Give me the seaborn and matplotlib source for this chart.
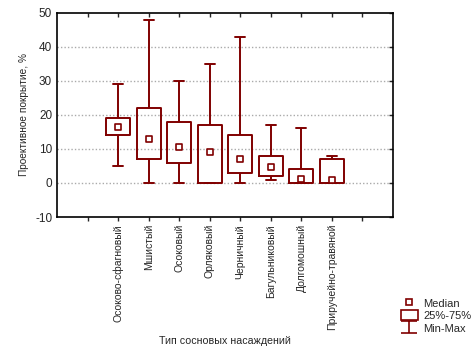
import seaborn as sns
import pandas as pd
import numpy as np
import matplotlib.pyplot as plt
from matplotlib.lines import Line2D
from matplotlib.patches import Patch
from matplotlib.path import Path

types = ["Осоково-сфагновый", "Мшистый", "Осоковый", "Орляковый",
         "Черничный", "Багульниковый", "Долгомошный", "Приручейно-травяной"]
mins = [5, 0, 0, 0, 0, 1, 0, 0]
q1 = [14, 7, 6, 0, 3, 2, 0, 0]
medians = [16.5, 13, 10.5, 9, 7, 4.6, 1.1, 0.8]
q3 = [19, 22, 18, 17, 14, 8, 4, 7]
maxs = [29, 48, 30, 35, 43, 17, 16, 8]

red = "#800000"

# five summary values per type -> box spans q1..q3, whiskers min..max
rows = []
for t, a, b, c, d, e in zip(types, mins, q1, medians, q3, maxs):
    for v in (a, b, c, d, e):
        rows.append({"type": t, "value": v})
df = pd.DataFrame(rows)
med_df = pd.DataFrame({"type": types, "value": medians})

sns.set_style("white")
plt.rcParams['font.family'] = ['Liberation Sans', 'DejaVu Sans']
plt.rcParams['axes.unicode_minus'] = False
fig = plt.figure(figsize=(4.77, 3.59), dpi=100)
ax = fig.add_axes([0.1195, 0.3955, 0.7045, 0.569])

sns.boxplot(data=df, x="type", y="value", order=types, whis=(0, 100),
            width=0.78, fill=False, color=red, linecolor=red, linewidth=1.4,
            medianprops={"visible": False}, showcaps=True, ax=ax)
# caps a bit narrower than the boxes
for ln in ax.lines:
    xd, yd = np.asarray(ln.get_xdata(), float), np.asarray(ln.get_ydata(), float)
    if len(xd) == 2 and yd[0] == yd[1] and ln.get_visible():
        c = xd.mean()
        ln.set_xdata(c + (xd - c) * 0.83)
sns.scatterplot(data=med_df, x="type", y="value", marker="s", s=18,
                facecolor="white", edgecolor=red, linewidth=1.2, zorder=5, ax=ax)

ax.set_xlim(-2, 9)
ax.set_ylim(-10, 50)
ax.set_xticks(range(-1, 9))
ax.set_xticklabels([""] + types + [""], rotation=90, fontsize=7.5)
ax.set_yticks(range(-10, 51, 10))
ax.tick_params(axis="y", labelsize=8.5, left=False, right=True,
               direction="in", length=3, width=1)
ax.tick_params(axis="x", bottom=True, length=3, width=1, direction="out", pad=2)
ax.tick_params(axis="x", which="major", top=True)
for t in ax.xaxis.get_major_ticks():
    t.tick2line.set_marker(3)  # inward tick on top spine
    t.tick2line.set_markersize(3)
for y in range(0, 41, 10):
    ax.axhline(y, color="#aaaaaa", linestyle=(0, (1, 1.5)), linewidth=1, zorder=0)
for s in ax.spines.values():
    s.set_visible(True)
    s.set_color("black")
    s.set_linewidth(1.2)
ax.set_xlabel("Тип сосновых насаждений", fontsize=7.7)
ax.set_ylabel("Проективное покрытие, %", fontsize=7.3)

# whisker symbol for the legend
ibeam = Path([(-1, 0.75), (1, 0.75), (0, 0.75), (0, -0.75), (-1, -0.75), (1, -0.75)],
             [Path.MOVETO, Path.LINETO, Path.MOVETO, Path.LINETO, Path.MOVETO, Path.LINETO])
handles = [
    Line2D([], [], marker="s", linestyle="none", markersize=4.5,
           markerfacecolor="white", markeredgecolor=red, markeredgewidth=1.2),
    Patch(facecolor="white", edgecolor=red, linewidth=1.2),
    Line2D([], [], marker=ibeam, linestyle="none", markersize=12,
           markerfacecolor="none", markeredgecolor=red, markeredgewidth=1.2),
]
fig.legend(handles, ["Median", "25%-75%", "Min-Max"], loc="upper left",
           bbox_to_anchor=(0.82, 0.198), frameon=False, fontsize=8,
           handlelength=1.5, handleheight=1.0, handletextpad=0.5,
           labelspacing=0.15)

plt.savefig("out.png", dpi=100)
